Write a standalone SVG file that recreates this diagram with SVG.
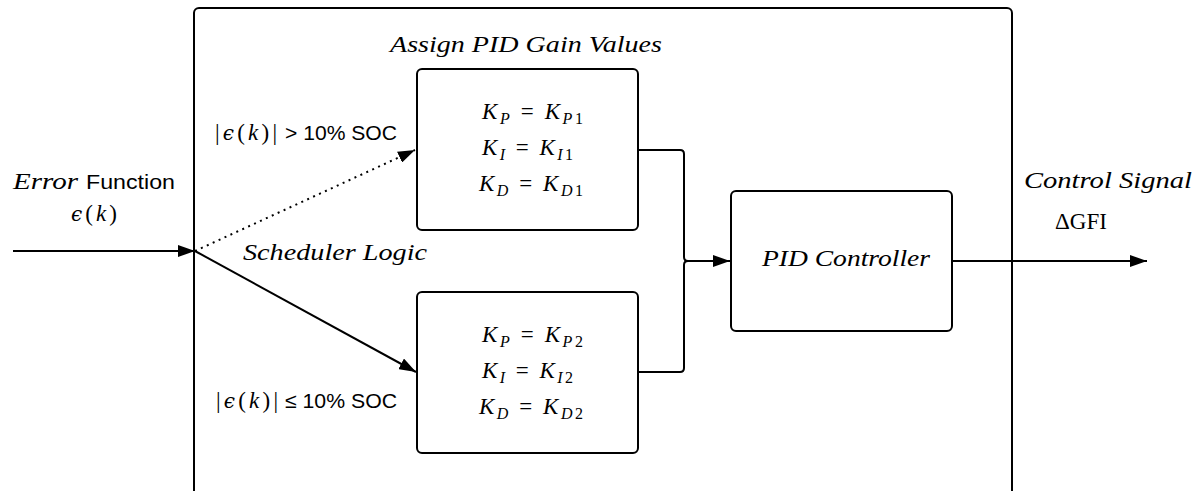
<svg xmlns="http://www.w3.org/2000/svg" width="1203" height="491" viewBox="0 0 1203 491">
  <style>
    .box { fill: #fff; stroke: #000; stroke-width: 2; }
    .wire { fill: none; stroke: #000; stroke-width: 2; }
    .dots { fill: none; stroke: #000; stroke-width: 2; stroke-dasharray: 2 4.5; }
    .sans { font-family: "Liberation Sans", Arial, sans-serif; font-size: 21px; fill: #000; }
    .mi { font-family: "Liberation Serif", "DejaVu Serif", serif; font-style: italic; font-size: 23px; fill: #000; }
    .mr { font-family: "Liberation Serif", "DejaVu Serif", serif; font-style: normal; font-size: 23px; fill: #000; }
    .eps { font-family: "DejaVu Serif", serif; font-style: italic; font-size: 20px; }
    .sub { font-size: 16px; }
    .up { font-style: normal; }
  </style>
  <defs>
    <marker id="arrow" viewBox="0 0 17 12" refX="17" refY="6" markerWidth="17" markerHeight="12" markerUnits="userSpaceOnUse" orient="auto">
      <path d="M0,0 L17,6 L0,12 Z" fill="#000"/>
    </marker>
  </defs>

  <rect width="1203" height="491" fill="#fff"/>

  <!-- scheduler enclosure -->
  <g id="scheduler">
    <rect class="box" x="194" y="8" width="818" height="500" rx="5"/>
    <text class="mi" x="243" y="260" textLength="184" lengthAdjust="spacingAndGlyphs">Scheduler Logic</text>
    <text class="mi" x="390" y="52" textLength="272" lengthAdjust="spacingAndGlyphs">Assign PID Gain Values</text>
  </g>

  <!-- connectors -->
  <g id="connectors">
    <path class="wire" d="M13,251 H195" marker-end="url(#arrow)"/>
    <path class="dots" d="M195,251 L415,150" marker-end="url(#arrow)"/>
    <path class="wire" d="M195,251 L416,372" marker-end="url(#arrow)"/>
    <path class="wire" d="M638,150 H680 Q684,150 684,154 V257 Q684,261 688,261 H730" marker-end="url(#arrow)"/>
    <path class="wire" d="M638,372 H680 Q684,372 684,368 V265 Q684,261 688,261"/>
    <path class="wire" d="M952,261 H1147" marker-end="url(#arrow)"/>
  </g>

  <!-- input label -->
  <g id="input">
    <text class="mi" x="13" y="189" textLength="65" lengthAdjust="spacingAndGlyphs">Error</text>
    <text class="sans" x="86" y="189" textLength="89" lengthAdjust="spacingAndGlyphs">Function</text>
    <text class="mi" x="71" y="221" textLength="46" lengthAdjust="spacing"><tspan class="eps">ϵ</tspan><tspan class="up">(</tspan>k<tspan class="up">)</tspan></text>
  </g>

  <!-- branch conditions -->
  <g id="cond-high">
    <text class="mr" x="215" y="140" textLength="62" lengthAdjust="spacing">|<tspan class="eps">ϵ</tspan>(<tspan class="mi">k</tspan>)|</text>
    <text class="sans" x="285" y="140" textLength="112" lengthAdjust="spacingAndGlyphs">&gt; 10% SOC</text>
  </g>
  <g id="cond-low">
    <text class="mr" x="216" y="408" textLength="62" lengthAdjust="spacing">|<tspan class="eps">ϵ</tspan>(<tspan class="mi">k</tspan>)|</text>
    <text class="sans" x="285" y="408" textLength="112" lengthAdjust="spacingAndGlyphs">≤ 10% SOC</text>
  </g>

  <!-- gain set 1 -->
  <g id="gains-1">
    <rect class="box" x="417" y="69" width="221" height="161" rx="5"/>
    <text class="mi" x="482" y="119" textLength="101" lengthAdjust="spacing">K<tspan class="sub" dy="5">P</tspan><tspan class="up" dy="-5"> = </tspan>K<tspan class="sub" dy="5">P</tspan><tspan class="sub up">1</tspan></text>
    <text class="mi" x="482" y="155" textLength="91" lengthAdjust="spacing">K<tspan class="sub" dy="5">I</tspan><tspan class="up" dy="-5"> = </tspan>K<tspan class="sub" dy="5">I</tspan><tspan class="sub up">1</tspan></text>
    <text class="mi" x="479" y="191" textLength="104" lengthAdjust="spacing">K<tspan class="sub" dy="5">D</tspan><tspan class="up" dy="-5"> = </tspan>K<tspan class="sub" dy="5">D</tspan><tspan class="sub up">1</tspan></text>
  </g>

  <!-- gain set 2 -->
  <g id="gains-2">
    <rect class="box" x="417" y="292" width="221" height="161" rx="5"/>
    <text class="mi" x="482" y="342" textLength="101" lengthAdjust="spacing">K<tspan class="sub" dy="5">P</tspan><tspan class="up" dy="-5"> = </tspan>K<tspan class="sub" dy="5">P</tspan><tspan class="sub up">2</tspan></text>
    <text class="mi" x="482" y="378" textLength="91" lengthAdjust="spacing">K<tspan class="sub" dy="5">I</tspan><tspan class="up" dy="-5"> = </tspan>K<tspan class="sub" dy="5">I</tspan><tspan class="sub up">2</tspan></text>
    <text class="mi" x="479" y="414" textLength="104" lengthAdjust="spacing">K<tspan class="sub" dy="5">D</tspan><tspan class="up" dy="-5"> = </tspan>K<tspan class="sub" dy="5">D</tspan><tspan class="sub up">2</tspan></text>
  </g>

  <!-- controller -->
  <g id="pid">
    <rect class="box" x="731" y="191" width="221" height="140" rx="5"/>
    <text class="mi" x="762" y="266" textLength="168" lengthAdjust="spacingAndGlyphs">PID Controller</text>
  </g>

  <!-- output label -->
  <g id="output">
    <text class="mi" x="1024" y="188" textLength="168" lengthAdjust="spacingAndGlyphs">Control Signal</text>
    <text class="mr" x="1055" y="229" textLength="52" lengthAdjust="spacingAndGlyphs">ΔGFI</text>
  </g>
</svg>
